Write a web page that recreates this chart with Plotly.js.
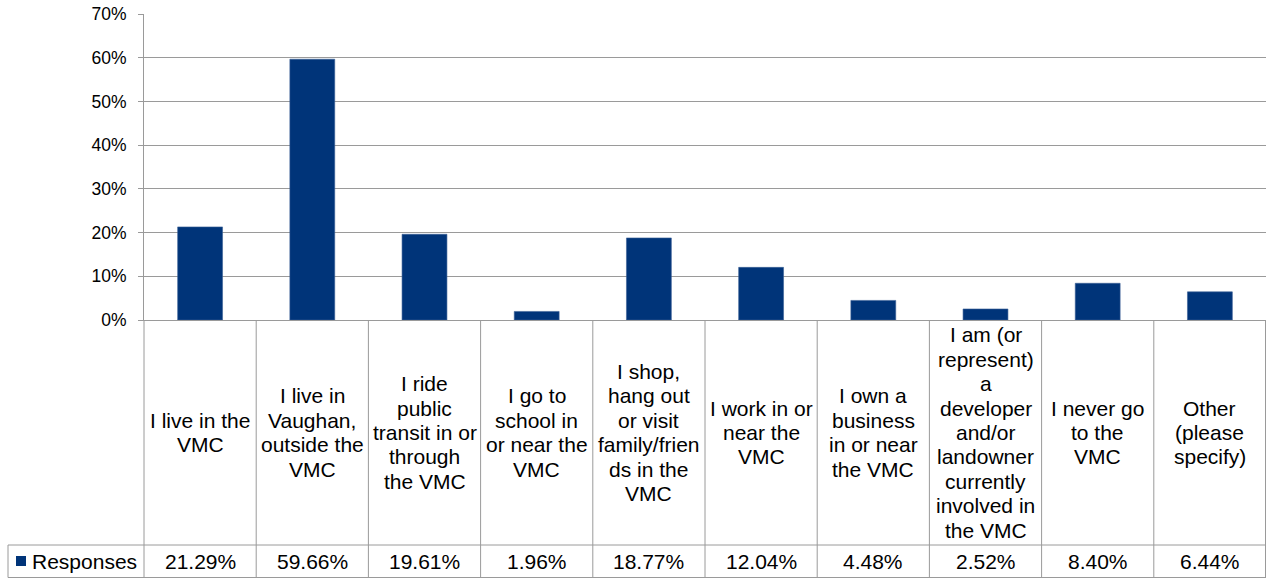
<!DOCTYPE html>
<html>
<head>
<meta charset="utf-8">
<script src="https://cdn.plot.ly/plotly-3.0.1.min.js"></script>
<style>
  html, body { margin: 0; padding: 0; background: #fff; }
  #chart { width: 1266px; height: 578px; }
</style>
</head>
<body>
<div id="chart"></div>
<script>
// ---- data ----
var categories = [
  "I live in the\nVMC",
  "I live in\nVaughan,\noutside the\nVMC",
  "I ride\npublic\ntransit in or\nthrough\nthe VMC",
  "I go to\nschool in\nor near the\nVMC",
  "I shop,\nhang out\nor visit\nfamily/frien\nds in the\nVMC",
  "I work in or\nnear the\nVMC",
  "I own a\nbusiness\nin or near\nthe VMC",
  "I am (or\nrepresent)\na\ndeveloper\nand/or\nlandowner\ncurrently\ninvolved in\nthe VMC",
  "I never go\nto the\nVMC",
  "Other\n(please\nspecify)"
];
var responses = [21.29, 59.66, 19.61, 1.96, 18.77, 12.04, 4.48, 2.52, 8.40, 6.44];
var seriesName = "Responses";
var yTickVals = [0, 10, 20, 30, 40, 50, 60, 70];

// ---- layout geometry ----
var W = 1266, H = 578;
var M = {l: 144, r: 0, t: 14, b: 258};
var plotW = W - M.l - M.r, plotH = H - M.t - M.b;
function px2x(px) { return (px - M.l) / plotW; }
function py2y(py) { return (H - M.b - py) / plotH; }

var BAR = '#003479';
var GRID = '#9a9a9a';
var FONT = 'Liberation Sans, Arial, sans-serif';
var n = categories.length;

var trace = {
  type: 'bar',
  x: categories.map(function (_, i) { return i; }),
  y: responses,
  width: 0.4,
  marker: {color: BAR, line: {color: '#3a5f95', width: 0.6}},
  hoverinfo: 'none',
  showlegend: false
};

var shapes = [];
var annotations = [];
var tableTop = H - M.b, rowLine = 545, tableBottom = 577.5;

// vertical table lines at category boundaries
for (var i = 0; i <= n; i++) {
  var xp = i / n;
  if (i === n) xp = px2x(W - 0.5);
  shapes.push({type: 'line', xref: 'paper', yref: 'paper',
    x0: xp, x1: xp, y0: py2y(tableTop), y1: py2y(tableBottom),
    line: {color: GRID, width: 1}});
}
// horizontal line between label row and data row
shapes.push({type: 'line', xref: 'paper', yref: 'paper',
  x0: px2x(8), x1: 1, y0: py2y(rowLine), y1: py2y(rowLine),
  line: {color: GRID, width: 1}});
// bottom border
shapes.push({type: 'line', xref: 'paper', yref: 'paper',
  x0: px2x(8), x1: 1, y0: py2y(tableBottom), y1: py2y(tableBottom),
  line: {color: GRID, width: 1}});
// left border of legend cell
shapes.push({type: 'line', xref: 'paper', yref: 'paper',
  x0: px2x(8), x1: px2x(8), y0: py2y(rowLine), y1: py2y(tableBottom),
  line: {color: GRID, width: 1}});
// legend key
shapes.push({type: 'rect', xref: 'paper', yref: 'paper',
  x0: px2x(16), x1: px2x(26), y0: py2y(556), y1: py2y(566),
  fillcolor: BAR, line: {width: 0}});

var tableFont = {family: FONT, size: 21, color: '#000'};
var cellCenter = (tableTop + rowLine) / 2;
var lineGap = 24.4;

categories.forEach(function (label, i) {
  var lines = label.split('\n');
  lines.forEach(function (ln, k) {
    var py = cellCenter + (k - (lines.length - 1) / 2) * lineGap;
    annotations.push({xref: 'x', yref: 'paper', x: i, y: py2y(py),
      text: ln, showarrow: false, xanchor: 'center', yanchor: 'middle',
      font: tableFont});
  });
  annotations.push({xref: 'x', yref: 'paper', x: i, y: py2y(561.5),
    text: responses[i].toFixed(2) + '%', showarrow: false,
    xanchor: 'center', yanchor: 'middle', font: tableFont});
});
annotations.push({xref: 'paper', yref: 'paper', x: px2x(30), y: py2y(561.5),
  text: seriesName, showarrow: false, xanchor: 'left', yanchor: 'middle',
  font: tableFont});

var layout = {
  width: W, height: H,
  margin: M,
  paper_bgcolor: '#fff', plot_bgcolor: '#fff',
  showlegend: false,
  bargap: 0.6,
  xaxis: {
    range: [-0.5, n - 0.5], showgrid: false, zeroline: false,
    showticklabels: false, ticks: '', showline: true,
    linecolor: GRID, linewidth: 1, fixedrange: true
  },
  yaxis: {
    range: [0, 70], tickvals: yTickVals,
    ticktext: yTickVals.map(function (v) { return v + '%'; }),
    showgrid: true, gridcolor: GRID, gridwidth: 1,
    zeroline: false, showline: true, linecolor: GRID, linewidth: 1,
    ticks: 'outside', ticklen: 5, tickcolor: GRID, tickwidth: 1,
    ticklabelstandoff: 8,
    tickfont: {family: FONT, size: 17.5, color: '#000'},
    fixedrange: true
  },
  shapes: shapes,
  annotations: annotations
};

Plotly.newPlot('chart', [trace], layout, {displayModeBar: false, staticPlot: true});
</script>
</body>
</html>
